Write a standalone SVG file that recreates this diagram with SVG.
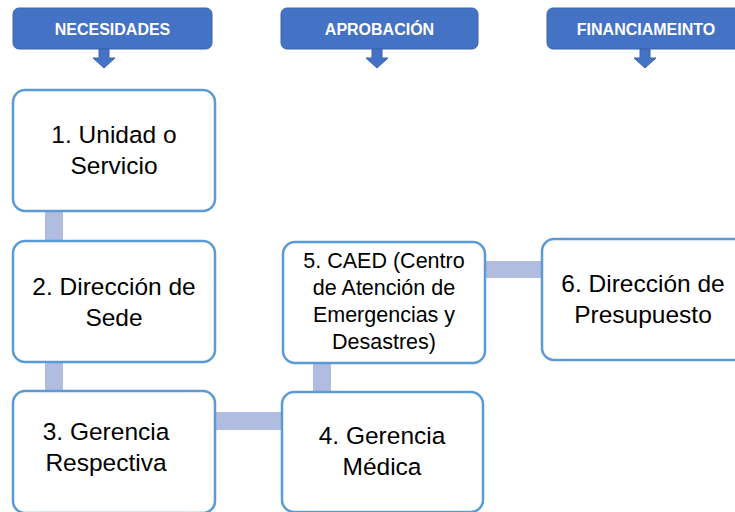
<svg xmlns="http://www.w3.org/2000/svg" width="735" height="512" viewBox="0 0 735 512">
<style>
.hdr{fill:#4472C4;stroke:#3A63AE;stroke-width:1}
.hdrt{fill:#ffffff;font-family:"Liberation Sans",Arial,sans-serif;font-weight:bold;font-size:16px;text-anchor:middle}
.arr{fill:#4472C4;stroke:#3A63AE;stroke-width:1}
.box{fill:#ffffff;stroke:#5B9BD5;stroke-width:2.5}
.bt{fill:#000000;font-family:"Liberation Sans",Arial,sans-serif;font-size:24.5px;text-anchor:middle}
.bt5{fill:#000000;font-family:"Liberation Sans",Arial,sans-serif;font-size:21.5px;text-anchor:middle}
.con{fill:#B0BDE0;stroke:none}
</style>
<rect width="735" height="512" fill="#ffffff"/>
<g id="connectors">
<rect class="con" x="45" y="211" width="18" height="30"/>
<rect class="con" x="45" y="362" width="18" height="30"/>
<rect class="con" x="215" y="412" width="68" height="18"/>
<rect class="con" x="313" y="363" width="18" height="29"/>
<rect class="con" x="485" y="261" width="57" height="17"/>
</g>
<g id="hdr-necesidades">
<rect class="hdr" x="13" y="8" width="199" height="41" rx="6"/>
<path class="arr" d="M99,49 H109 V58 H115 L104,68 L93,58 H99 Z"/>
<text class="hdrt" x="112.5" y="35">NECESIDADES</text>
</g>
<g id="hdr-aprobacion">
<rect class="hdr" x="281" y="8" width="197" height="41" rx="6"/>
<path class="arr" d="M372,49 H382 V58 H388 L377,68 L366,58 H372 Z"/>
<text class="hdrt" x="379.5" y="35">APROBACIÓN</text>
</g>
<g id="hdr-financiamiento">
<rect class="hdr" x="547" y="8" width="198" height="41" rx="6"/>
<path class="arr" d="M640,49 H650 V58 H656 L645,68 L634,58 H640 Z"/>
<text class="hdrt" x="646" y="35">FINANCIAMEINTO</text>
</g>
<g id="node1">
<rect class="box" x="13" y="90" width="202" height="121" rx="12"/>
<text class="bt" x="114" y="143">1. Unidad o</text>
<text class="bt" x="114" y="174">Servicio</text>
</g>
<g id="node2">
<rect class="box" x="13" y="241" width="202" height="121" rx="12"/>
<text class="bt" x="114" y="295">2. Dirección de</text>
<text class="bt" x="114" y="326">Sede</text>
</g>
<g id="node3">
<rect class="box" x="13" y="391" width="202" height="122" rx="12"/>
<text class="bt" x="106" y="440">3. Gerencia</text>
<text class="bt" x="106" y="471">Respectiva</text>
</g>
<g id="node4">
<rect class="box" x="282" y="392" width="201" height="120" rx="12"/>
<text class="bt" x="382" y="444">4. Gerencia</text>
<text class="bt" x="382" y="475">Médica</text>
</g>
<g id="node5">
<rect class="box" x="283" y="242" width="202" height="121" rx="12"/>
<text class="bt5" x="384" y="268">5. CAED (Centro</text>
<text class="bt5" x="384" y="295">de Atención de</text>
<text class="bt5" x="384" y="322">Emergencias y</text>
<text class="bt5" x="384" y="349">Desastres)</text>
</g>
<g id="node6">
<rect class="box" x="542" y="239" width="204" height="121" rx="12"/>
<text class="bt" x="643" y="292">6. Dirección de</text>
<text class="bt" x="643" y="323">Presupuesto</text>
</g>
</svg>
